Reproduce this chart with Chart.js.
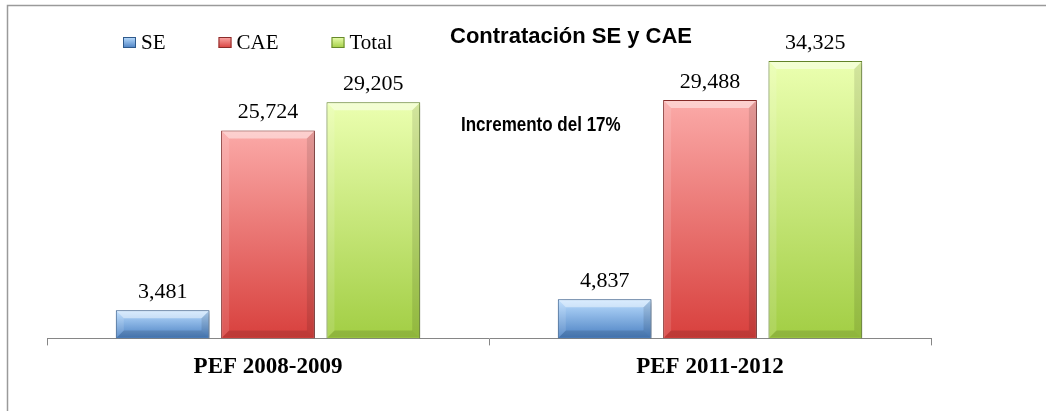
<!DOCTYPE html>
<html>
<head>
<meta charset="utf-8">
<script src="https://cdn.jsdelivr.net/npm/chart.js@4.4.0/dist/chart.umd.min.js"></script>
<style>
  html, body { margin: 0; padding: 0; background: #fff; }
</style>
</head>
<body>
<canvas id="myChart" width="1046" height="411"></canvas>
<script>
// datos del grafico
const categorias = ['PEF 2008-2009', 'PEF 2011-2012'];
const series = ['SE', 'CAE', 'Total'];
const valoresSE = [3481, 4837];
const valoresCAE = [25724, 29488];
const valoresTotal = [29205, 34325];
const titulo = 'Contratación SE y CAE';
const nota = 'Incremento del 17%';

// colores de cada serie (claro arriba, oscuro abajo, borde)
const colores = [
    { claro: '#bcdeff', oscuro: '#4a80c2', borde: '#2f5a8c' },
    { claro: '#fbaaa8', oscuro: '#d8403d', borde: '#8a2c2a' },
    { claro: '#ebffb0', oscuro: '#a2ce44', borde: '#66882a' }
];

// degradado vertical de cada barra, segun su altura
function degradado(c, color) {
    const chart = c.chart;
    const y = chart.scales.y;
    if (!chart.chartArea || !y || c.raw === undefined) return color.oscuro;
    const top = y.getPixelForValue(c.raw);
    const base = y.getPixelForValue(0);
    if (!isFinite(top) || base - top < 1) return color.oscuro;
    const g = chart.ctx.createLinearGradient(0, top, 0, base);
    g.addColorStop(0, color.claro);
    g.addColorStop(1, color.oscuro);
    return g;
}

// marco, sombra, bisel, etiquetas, leyenda y titulo
const extras = {
    id: 'extras',
    beforeDraw(chart) {
        const ctx = chart.ctx;
        ctx.save();
        ctx.fillStyle = '#fff';
        ctx.fillRect(0, 0, chart.width, chart.height);
        ctx.strokeStyle = '#9a9a9a';
        ctx.lineWidth = 1.5;
        ctx.beginPath();
        ctx.moveTo(7.5, chart.height);
        ctx.lineTo(7.5, 5.5);
        ctx.lineTo(chart.width, 5.5);
        ctx.stroke();
        ctx.restore();
    },
    beforeDatasetsDraw(chart) {
        const ctx = chart.ctx;
        ctx.save();
        ctx.shadowColor = 'rgba(0,0,0,0.35)';
        ctx.shadowBlur = 5;
        ctx.shadowOffsetX = 2;
        ctx.shadowOffsetY = 2;
    },
    afterDatasetsDraw(chart) {
        const ctx = chart.ctx;
        ctx.restore();
        chart.data.datasets.forEach((ds, i) => {
            const meta = chart.getDatasetMeta(i);
            meta.data.forEach((bar, j) => {
                const p = bar.getProps(['x', 'y', 'base', 'width'], true);
                const l = p.x - p.width / 2 + 1, r = p.x + p.width / 2 - 1;
                const t = p.y + 1, b = p.base - 1;
                const s = Math.min(7, (b - t) / 2);
                const poly = (pts, fill) => {
                    ctx.beginPath();
                    ctx.moveTo(pts[0][0], pts[0][1]);
                    pts.slice(1).forEach(q => ctx.lineTo(q[0], q[1]));
                    ctx.closePath();
                    ctx.fillStyle = fill;
                    ctx.fill();
                };
                poly([[l, t], [r, t], [r - s, t + s], [l + s, t + s]], 'rgba(255,255,255,0.45)');
                poly([[l, b], [r, b], [r - s, b - s], [l + s, b - s]], 'rgba(0,0,0,0.12)');
                poly([[l, t], [l + s, t + s], [l + s, b - s], [l, b]], 'rgba(255,255,255,0.12)');
                poly([[r, t], [r - s, t + s], [r - s, b - s], [r, b]], 'rgba(0,0,0,0.10)');

                // valor encima de la barra
                ctx.fillStyle = '#000';
                ctx.font = '22px "Liberation Serif"';
                ctx.textAlign = 'center';
                ctx.textBaseline = 'alphabetic';
                ctx.fillText(ds.data[j].toLocaleString('en-US'), p.x, p.y - 12);
            });
        });
    },
    afterDraw(chart) {
        const ctx = chart.ctx;
        ctx.save();
        // leyenda
        let x = 123;
        ctx.font = '21px "Liberation Serif"';
        ctx.textBaseline = 'alphabetic';
        ctx.textAlign = 'left';
        chart.data.datasets.forEach((ds, i) => {
            const c = colores[i];
            const g = ctx.createLinearGradient(0, 37, 0, 48);
            g.addColorStop(0, c.claro);
            g.addColorStop(1, c.oscuro);
            ctx.fillStyle = g;
            ctx.fillRect(x, 37, 13, 11);
            ctx.strokeStyle = c.borde;
            ctx.lineWidth = 1;
            ctx.strokeRect(x + 0.5, 37.5, 12, 10);
            ctx.fillStyle = '#000';
            ctx.fillText(ds.label, x + 18, 49);
            x += 18 + ctx.measureText(ds.label).width + 53;
        });
        // titulo
        ctx.font = 'bold 22px "Liberation Sans"';
        ctx.fillText(titulo, 450, 43);
        // nota (algo mas alta que ancha, como en el original)
        ctx.font = 'bold 17px "Liberation Sans"';
        ctx.translate(461, 131);
        ctx.scale(1, 1.15);
        ctx.fillText(nota, 0, 0);
        ctx.restore();
    }
};

const ctx = document.getElementById('myChart').getContext('2d');
const valores = [valoresSE, valoresCAE, valoresTotal];

const myChart = new Chart(ctx, {
    type: 'bar',
    data: {
        labels: categorias,
        datasets: series.map((nombre, i) => ({
            label: nombre,
            data: valores[i],
            backgroundColor: c => degradado(c, colores[i]),
            borderColor: colores[i].borde,
            borderWidth: 1,
            categoryPercentage: 0.715,
            barPercentage: 0.89
        }))
    },
    options: {
        responsive: false,
        animation: false,
        layout: { padding: { left: 47, right: 115, top: 15, bottom: 22 } },
        plugins: {
            legend: { display: false },
            tooltip: { enabled: false }
        },
        scales: {
            x: {
                grid: { display: true, drawOnChartArea: false, drawTicks: true, tickLength: 7, color: '#868686', offset: true },
                border: { display: true, color: '#868686', width: 1 },
                ticks: { color: '#000', padding: 8, font: { family: 'Liberation Serif', size: 23, weight: 'bold' } }
            },
            y: {
                display: false,
                min: 0,
                max: 40000
            }
        }
    },
    plugins: [extras]
});
</script>
</body>
</html>
